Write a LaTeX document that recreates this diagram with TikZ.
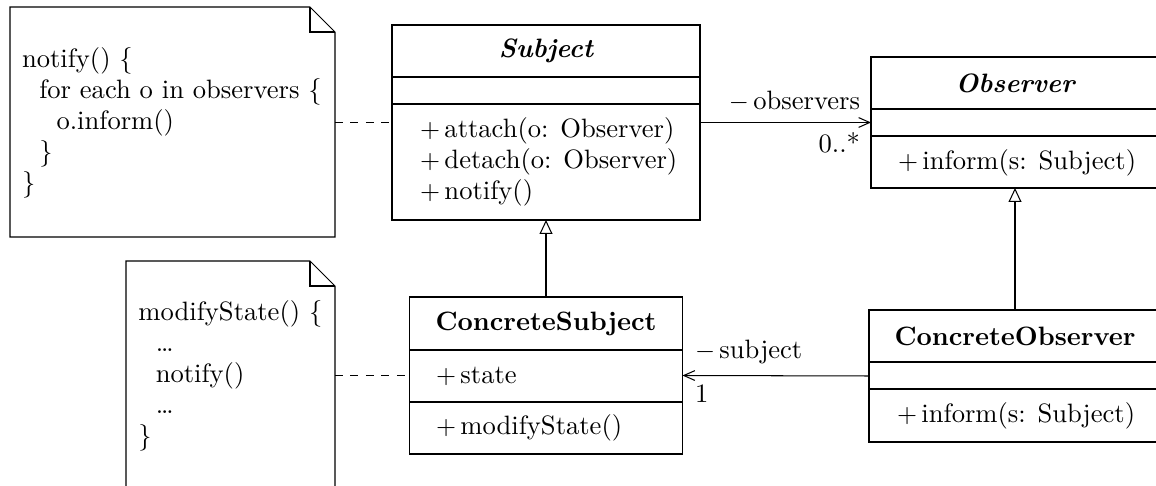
\documentclass[tikz,border=0pt]{standalone}
\usetikzlibrary{arrows.meta,calc}
% one drawing unit
\def\pxu{0.3876pt}
\tikzset{
  x=0.3876pt, y=-0.3876pt,
  bsize/.style 2 args={minimum width=#1*\pxu, minimum height=#2*\pxu},
  cls/.style={draw, rectangle, inner sep=0pt, outer sep=0pt},
  notebox/.style={rectangle, inner sep=0pt, outer sep=0pt},
  txt/.style={inner sep=0pt, outer sep=0pt, align=left},
  clsname/.style={inner sep=0pt, outer sep=0pt, font=\bfseries},
  abstractname/.style={inner sep=0pt, outer sep=0pt, font=\bfseries\itshape},
  rolelabel/.style={inner sep=0pt, outer sep=0pt},
  assoc/.style={-{Straight Barb[length=4.3pt,width=3.8pt]}},
  inherit/.style={-{Triangle[open,length=5.4pt,width=5pt]}},
  notelink/.style={dashed},
}
\newcommand{\vis}[1]{$#1$\,}
\newcommand{\ind}{\hspace*{6.7pt}}
\begin{document}
\fontsize{10.3pt}{12pt}\selectfont
\begin{tikzpicture}
\useasboundingbox (0,0) rectangle (1156,486);
\fill[white] (0,0) rectangle (1156,486);
\clip (0,0) rectangle (1156,486);

% ---------- classes ----------
\node[cls, bsize={308}{195}] (subject) at (546,122.5) {};
\draw (subject.west |- 0,77) -- (subject.east |- 0,77);
\draw (subject.west |- 0,104) -- (subject.east |- 0,104);
\node[abstractname] (subjectname) at (546,51) {Subject};
\node[txt, anchor=west] (subjectops) at (420,162)
  {\vis{+}attach(o: Observer)\\ \vis{+}detach(o: Observer)\\ \vis{+}notify()};

\node[cls, bsize={288}{131}] (observer) at (1015,122.5) {};
\draw (observer.west |- 0,109) -- (observer.east |- 0,109);
\draw (observer.west |- 0,136) -- (observer.east |- 0,136);
\node[abstractname] (observername) at (1015,83) {Observer};
\node[txt, anchor=west] (observerops) at (898,162.5) {\vis{+}inform(s: Subject)};

\node[cls, bsize={273}{157}] (csubject) at (546,375.5) {};
\draw (csubject.west |- 0,350) -- (csubject.east |- 0,350);
\draw (csubject.west |- 0,402) -- (csubject.east |- 0,402);
\node[clsname] (csubjectname) at (546,323.5) {ConcreteSubject};
\node[txt, anchor=west] (csubjectattr) at (436,376) {\vis{+}state};
\node[txt, anchor=west] (csubjectops) at (436,428) {\vis{+}modifyState()};

\node[cls, bsize={292}{132}] (cobserver) at (1015,376) {};
\draw (cobserver.west |- 0,362) -- (cobserver.east |- 0,362);
\draw (cobserver.west |- 0,389) -- (cobserver.east |- 0,389);
\node[clsname] (cobservername) at (1015,336) {ConcreteObserver};
\node[txt, anchor=west] (cobserverops) at (897,415.5) {\vis{+}inform(s: Subject)};

% ---------- notes ----------
\node[notebox, bsize={325}{230}] (note1) at (172.5,122) {};
\draw (note1.north west) -- ($(note1.north east)+(-25,0)$) -- ($(note1.north east)+(0,25)$)
  -- (note1.south east) -- (note1.south west) -- cycle;
\draw ($(note1.north east)+(-25,0)$) -- ($(note1.north east)+(-25,25)$) -- ($(note1.north east)+(0,25)$);
\node[txt, anchor=west] (note1text) at (22,122.5)
  {notify() \{\\ \ind for each o in observers \{\\ \ind\ind o.inform()\\ \ind \}\\ \}};

\node[notebox, bsize={209}{230}] (note2) at (230.5,376) {};
\draw (note2.north west) -- ($(note2.north east)+(-25,0)$) -- ($(note2.north east)+(0,25)$)
  -- (note2.south east) -- (note2.south west) -- cycle;
\draw ($(note2.north east)+(-25,0)$) -- ($(note2.north east)+(-25,25)$) -- ($(note2.north east)+(0,25)$);
\node[txt, anchor=west] (note2text) at (138.5,376)
  {modifyState() \{\\ \ind …\\ \ind notify()\\ \ind …\\ \}};

% ---------- connectors ----------
\draw[notelink] (note1.east |- subject.west) -- (subject.west);
\draw[notelink] (note2.east |- csubject.west) -- (csubject.west);

\draw[assoc] (subject.east) -- (observer.west);
\node[rolelabel, anchor=base east] (obsrole) at (860,110) {\vis{-}observers};
\node[rolelabel, anchor=base east] (obsmult) at (860,152.5) {0..*};

\draw[assoc] (cobserver.west) -- (csubject.east);
\node[rolelabel, anchor=base west] (subjrole) at (695,359) {\vis{-}subject};
\node[rolelabel, anchor=base west] (subjmult) at (695,403) {1};

\draw[inherit] (csubject.north) -- (subject.south);
\draw[inherit] (cobserver.north) -- (observer.south);
\end{tikzpicture}
\end{document}
